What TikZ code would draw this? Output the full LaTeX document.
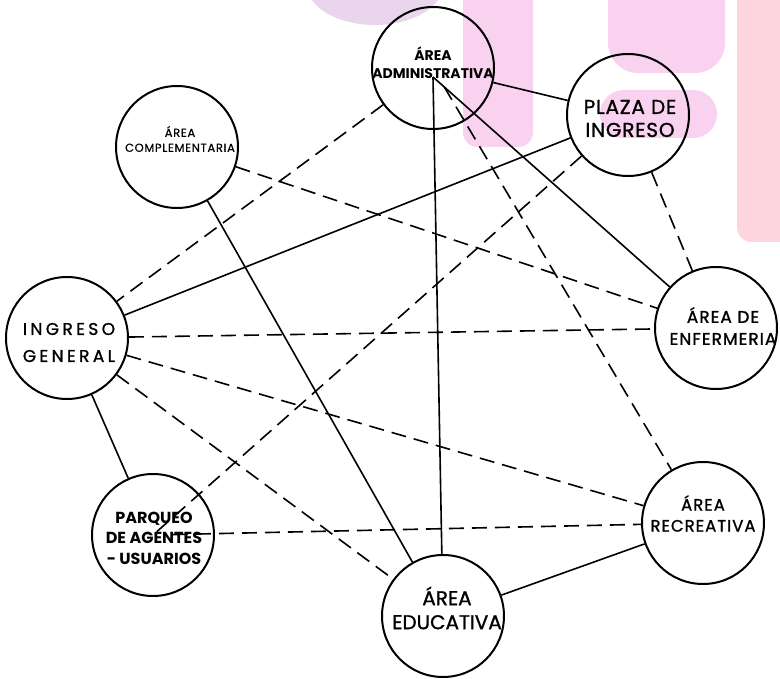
\documentclass[tikz,border=0pt]{standalone}
\usepackage{fontspec}
\setmainfont{Poppins}
\newfontfamily\popreg[FakeBold=1.2]{Poppins}
\newfontfamily\popls[LetterSpace=20,FakeBold=1.2]{Poppins}
\newfontfamily\popsm[LetterSpace=6,FakeBold=1.2]{Poppins}
\newfontfamily\popxs[LetterSpace=4,FakeBold=1.2]{Poppins}
\newfontfamily\popthin[LetterSpace=6,FakeBold=0.6]{Poppins}
\usetikzlibrary{calc}
\definecolor{pinkb}{RGB}{249,210,240}
\definecolor{lavb}{RGB}{233,213,236}
\definecolor{salmb}{RGB}{254,213,222}
\begin{document}
\begin{tikzpicture}[x=1pt,y=-1pt,
  area/.style={circle,draw=black,line width=2pt,minimum size=122pt,inner sep=0pt},
  lab/.style={align=center,inner sep=0pt,text=black},
  conn/.style={line width=1.6pt,draw=black},
  dashconn/.style={conn,dash pattern=on 15pt off 8pt}]
\useasboundingbox (0,0) rectangle (780,679);
\fill[white] (0,0) rectangle (780,679);
% background watermark shapes
\fill[lavb] (375,-15) ellipse [x radius=68pt, y radius=40pt];
\fill[pinkb,rounded corners=15pt] (463,-30) rectangle (533,147);
\fill[pinkb,rounded corners=30pt] (608,-40) rectangle (725,73);
\fill[pinkb,rounded corners=24pt] (600,90) rectangle (717,138);
\fill[salmb,rounded corners=15pt] (737,-30) rectangle (800,242);
% circles
\node[area] (admin) at (433,68) {};
\node[area] (plaza) at (628,115) {};
\node[area] (compl) at (177,147) {};
\node[area] (ig) at (67,338) {};
\node[area] (enf) at (716,328) {};
\node[area] (recr) at (703,523) {};
\node[area] (educ) at (443,616) {};
\node[area] (parq) at (153,535) {};
\coordinate (adminhub) at ([yshift=-9pt]admin.center);
% solid connectors
\draw[conn] (admin) -- (plaza);
\draw[conn] (adminhub) -- (educ);
\draw[conn] (adminhub) -- (enf);
\draw[conn] (plaza) -- (ig);
\draw[conn] (compl) -- (educ);
\draw[conn] (ig) -- (parq);
\draw[conn] (educ) -- (recr);
% dashed connectors
\draw[dashconn] (admin) -- (ig);
\draw[dashconn,shorten <=22pt] (admin.center) -- (recr);
\draw[dashconn] (plaza) -- (enf);
\draw[dashconn] (plaza) -- (parq.center);
\draw[dashconn] (compl) -- (enf);
\draw[dashconn] (ig) -- (enf);
\draw[dashconn] (ig) -- (recr);
\draw[dashconn] (ig) -- (educ);
\draw[dashconn,shorten <=20pt] (parq.center) -- (recr);
% labels
\node[lab,font=\fontsize{14}{18}\selectfont\bfseries] (admintxt) at (433,63) {ÁREA\\ADMINISTRATIVA};
\node[lab,font=\fontsize{11.5}{15}\selectfont\popthin] (compltxt) at (180,139) {ÁREA\\COMPLEMENTARIA};
\node[lab,font=\fontsize{20}{23}\selectfont\popxs] (plazatxt) at (630,118.5) {PLAZA DE\\INGRESO};
\node[lab,font=\fontsize{17}{27}\selectfont\popls] (igtxt) at (69,342.5) {INGRESO\\GENERAL};
\node[lab,font=\fontsize{17}{22}\selectfont\popsm] (enftxt) at (723,326) {ÁREA DE\\ENFERMERIA};
\node[lab,font=\fontsize{16.5}{21}\selectfont\popsm] (recrtxt) at (703,513.5) {ÁREA\\RECREATIVA};
\node[lab,font=\fontsize{20}{24}\selectfont\popreg] (eductxt) at (447,608) {ÁREA\\EDUCATIVA};
\node[lab,font=\fontsize{16}{20.5}\selectfont\bfseries] (parqtxt) at (154,538) {PARQUEO\\DE AGENTES\\- USUARIOS};
\end{tikzpicture}
\end{document}
